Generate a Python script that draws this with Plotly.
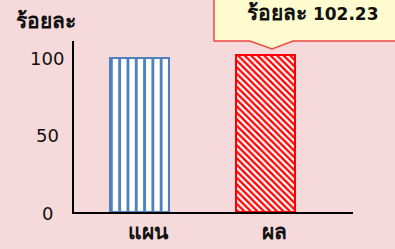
import plotly.graph_objects as go

categories = ["แผน", "ผล"]
values = [100, 102.23]
y_ticks = [0, 50, 100]
y_title = "ร้อยละ"
callout_label = "ร้อยละ"
callout_value = "102.23"

W, H = 395, 249
ML, MR, MT, MB = 74, 42, 41, 37
PW, PH = W - ML - MR, H - MT - MB
FONT = "Tahoma, 'DejaVu Sans', 'Noto Sans', sans-serif"
THAI = 21


def px(X, Y):
    return (X - ML) / PW, (H - MB - Y) / PH


fig = go.Figure()
fig.add_trace(go.Bar(
    x=[0], y=[values[0]], width=0.47,
    marker=dict(color="white", line=dict(color="#4F81BD", width=2),
                pattern=dict(shape="|", fgcolor="#4F81BD", bgcolor="white",
                             size=8.3, solidity=0.35, fillmode="replace", fgopacity=1)),
    hoverinfo="skip"))
fig.add_trace(go.Bar(
    x=[1], y=[values[1]], width=0.47,
    marker=dict(color="white", line=dict(color="#FF0000", width=2),
                pattern=dict(shape="\\", fgcolor="#FF0000", bgcolor="white",
                             size=4.6, solidity=0.5, fillmode="replace", fgopacity=1)),
    hoverinfo="skip"))

# callout box
pts = [(214, -5), (214, 41), (250, 41), (272, 49), (293, 41), (400, 41), (400, -5)]
path = "M " + " L ".join(f"{px(a, b)[0]:.4f},{px(a, b)[1]:.4f}" for a, b in pts) + " Z"
fig.add_shape(type="path", path=path, xref="paper", yref="paper",
              fillcolor="#FEFCCF", line=dict(color="#EE4A44", width=1.5), layer="above")

annotations = []
cx, cy = px(313, 13)
annotations.append(dict(
    text=f"<b><span style='font-size:{THAI}px'>{callout_label}</span> {callout_value}</b>",
    x=cx, y=cy, xref="paper", yref="paper", xanchor="center", yanchor="middle",
    showarrow=False, font=dict(size=17, color="#111", family=FONT)))
tx, ty = px(46, 21)
annotations.append(dict(text=f"<b>{y_title}</b>", x=tx, y=ty, xref="paper", yref="paper",
                        xanchor="center", yanchor="middle",
                        showarrow=False, font=dict(size=THAI, color="#111", family=FONT)))
lx, _ = px(47, 0)
for t in y_ticks:
    annotations.append(dict(text=str(t), x=lx, y=t, xref="paper", yref="y", yshift=-1,
                            xanchor="center", yanchor="middle",
                            showarrow=False, font=dict(size=18, color="#111", family=FONT)))
_, cyl = px(0, 232)
for i, c in enumerate(categories):
    annotations.append(dict(text=f"<b>{c}</b>", x=i, y=cyl, xref="x", yref="paper", xshift=9,
                            xanchor="center", yanchor="middle",
                            showarrow=False, font=dict(size=THAI, color="#111", family=FONT)))

fig.update_layout(
    width=W, height=H, margin=dict(l=ML, r=MR, t=MT, b=MB),
    paper_bgcolor="#F6DADB", plot_bgcolor="rgba(0,0,0,0)",
    showlegend=False, bargap=0,
    annotations=annotations,
    xaxis=dict(range=[-0.524, 1.694], showgrid=False, zeroline=False,
               showline=True, linecolor="black", linewidth=2, showticklabels=False,
               fixedrange=True),
    yaxis=dict(range=[0, 111], showgrid=False, zeroline=False, tickvals=y_ticks,
               showline=True, linecolor="black", linewidth=2, showticklabels=False,
               fixedrange=True),
)
fig.write_html("out.html", config={"displayModeBar": False},
               post_script="document.body.style.margin='0';document.body.style.overflow='hidden';")
